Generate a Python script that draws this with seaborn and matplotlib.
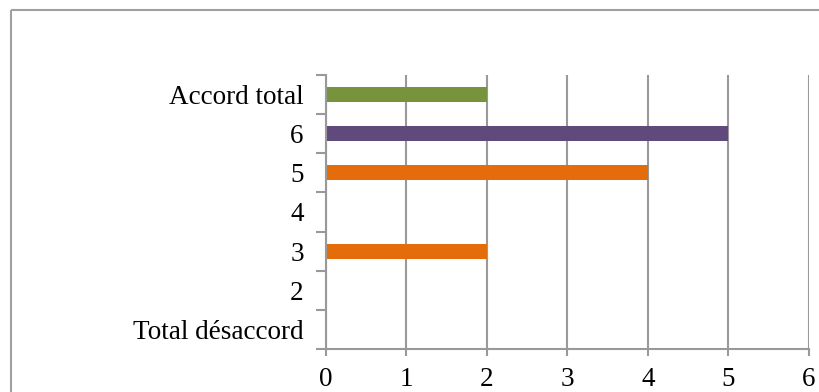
import matplotlib
matplotlib.use("Agg")
import matplotlib.pyplot as plt
import seaborn as sns
import pandas as pd
from matplotlib.ticker import FixedLocator, MultipleLocator
from matplotlib.lines import Line2D

categories = ["Accord total", "6", "5", "4", "3", "2", "Total désaccord"]
values = [2, 5, 4, 0, 2, 0, 0]
bar_colors = ["#77933C", "#604A7B", "#E46C0A", "#E46C0A", "#E46C0A", "#E46C0A", "#E46C0A"]

sns.set_theme(style="white")
plt.rcParams["font.family"] = ["Liberation Serif", "DejaVu Serif"]

df = pd.DataFrame({"cat": categories, "val": values})

fig = plt.figure(figsize=(8.2, 3.92), dpi=100)
ax = fig.add_axes([326/820, 1-349/392, (809-326)/820, (349-75)/392])

sns.barplot(data=df, y="cat", x="val", hue="cat", palette=dict(zip(categories, bar_colors)),
            order=categories, orient="h", width=0.38, linewidth=0, legend=False, ax=ax, saturation=1)

gray = "#999999"
ax.set_xlim(0, 6)
ax.set_ylim(6.5, -0.5)
ax.xaxis.set_major_locator(MultipleLocator(1))
ax.grid(axis="x", color=gray, linewidth=1.5)
ax.grid(axis="y", visible=False)
ax.set_axisbelow(True)
for s in ["top", "right"]:
    ax.spines[s].set_visible(False)
for s in ["left", "bottom"]:
    ax.spines[s].set_color(gray)
    ax.spines[s].set_linewidth(1.5)

ax.set_xlabel("")
ax.set_ylabel("")
ax.yaxis.set_minor_locator(FixedLocator([i - 0.5 for i in range(len(categories) + 1)]))
ax.tick_params(axis="y", which="major", length=0, pad=16, labelsize=19.5, labelcolor="black")
ax.tick_params(axis="y", which="minor", length=7, width=1.5, color=gray, left=True, direction="out")
ax.tick_params(axis="x", which="major", length=5, width=1.5, color=gray, bottom=True, direction="out",
               pad=8, labelsize=19.5, labelcolor="black")

bx, by = 11.5/820, 1 - 10/392
fig.lines.append(Line2D([bx, bx], [-0.05, by], transform=fig.transFigure, color="#a0a0a0",
                        linewidth=1.5, solid_capstyle="butt"))
fig.lines.append(Line2D([bx, 1.05], [by, by], transform=fig.transFigure, color="#a0a0a0",
                        linewidth=1.5, solid_capstyle="butt"))

fig.savefig("out.png", dpi=100)
